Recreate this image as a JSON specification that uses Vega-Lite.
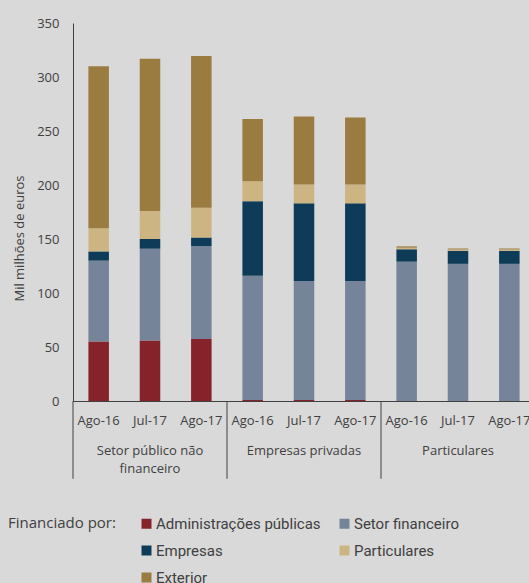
{
  "$schema": "https://vega.github.io/schema/vega-lite/v6.json",
  "background": "#d9d9d9",
  "padding": {"left": 8, "top": 17, "right": 0, "bottom": 0},
  "width": 462,
  "height": 378,
  "config": {
    "font": "Open Sans",
    "view": {"stroke": null},
    "axis": {"domainColor": "#404040", "labelColor": "#404040", "titleColor": "#404040", "labelFont": "Open Sans", "titleFont": "Open Sans", "labelFontSize": 13, "titleFontSize": 13, "titleFontWeight": "normal", "ticks": false, "tickSize": 0, "grid": false}
  },
  "datasets": {
    "valores": [
      {"barra": "1 Ago-16", "serie": "Administrações públicas", "ordem": 1, "valor": 55},
      {"barra": "1 Ago-16", "serie": "Setor financeiro", "ordem": 2, "valor": 75},
      {"barra": "1 Ago-16", "serie": "Empresas", "ordem": 3, "valor": 8.5},
      {"barra": "1 Ago-16", "serie": "Particulares", "ordem": 4, "valor": 21.5},
      {"barra": "1 Ago-16", "serie": "Exterior", "ordem": 5, "valor": 150},
      {"barra": "1 Jul-17", "serie": "Administrações públicas", "ordem": 1, "valor": 56},
      {"barra": "1 Jul-17", "serie": "Setor financeiro", "ordem": 2, "valor": 85},
      {"barra": "1 Jul-17", "serie": "Empresas", "ordem": 3, "valor": 9},
      {"barra": "1 Jul-17", "serie": "Particulares", "ordem": 4, "valor": 26},
      {"barra": "1 Jul-17", "serie": "Exterior", "ordem": 5, "valor": 141},
      {"barra": "1 Ago-17", "serie": "Administrações públicas", "ordem": 1, "valor": 57.5},
      {"barra": "1 Ago-17", "serie": "Setor financeiro", "ordem": 2, "valor": 86},
      {"barra": "1 Ago-17", "serie": "Empresas", "ordem": 3, "valor": 8},
      {"barra": "1 Ago-17", "serie": "Particulares", "ordem": 4, "valor": 27.5},
      {"barra": "1 Ago-17", "serie": "Exterior", "ordem": 5, "valor": 140.5},
      {"barra": "2 Ago-16", "serie": "Administrações públicas", "ordem": 1, "valor": 1},
      {"barra": "2 Ago-16", "serie": "Setor financeiro", "ordem": 2, "valor": 115},
      {"barra": "2 Ago-16", "serie": "Empresas", "ordem": 3, "valor": 69},
      {"barra": "2 Ago-16", "serie": "Particulares", "ordem": 4, "valor": 18.5},
      {"barra": "2 Ago-16", "serie": "Exterior", "ordem": 5, "valor": 57.5},
      {"barra": "2 Jul-17", "serie": "Administrações públicas", "ordem": 1, "valor": 1},
      {"barra": "2 Jul-17", "serie": "Setor financeiro", "ordem": 2, "valor": 110},
      {"barra": "2 Jul-17", "serie": "Empresas", "ordem": 3, "valor": 72},
      {"barra": "2 Jul-17", "serie": "Particulares", "ordem": 4, "valor": 17.5},
      {"barra": "2 Jul-17", "serie": "Exterior", "ordem": 5, "valor": 63},
      {"barra": "2 Ago-17", "serie": "Administrações públicas", "ordem": 1, "valor": 1},
      {"barra": "2 Ago-17", "serie": "Setor financeiro", "ordem": 2, "valor": 110},
      {"barra": "2 Ago-17", "serie": "Empresas", "ordem": 3, "valor": 72},
      {"barra": "2 Ago-17", "serie": "Particulares", "ordem": 4, "valor": 17.5},
      {"barra": "2 Ago-17", "serie": "Exterior", "ordem": 5, "valor": 62},
      {"barra": "3 Ago-16", "serie": "Administrações públicas", "ordem": 1, "valor": 0},
      {"barra": "3 Ago-16", "serie": "Setor financeiro", "ordem": 2, "valor": 129},
      {"barra": "3 Ago-16", "serie": "Empresas", "ordem": 3, "valor": 11.5},
      {"barra": "3 Ago-16", "serie": "Particulares", "ordem": 4, "valor": 1.5},
      {"barra": "3 Ago-16", "serie": "Exterior", "ordem": 5, "valor": 1.2},
      {"barra": "3 Jul-17", "serie": "Administrações públicas", "ordem": 1, "valor": 0},
      {"barra": "3 Jul-17", "serie": "Setor financeiro", "ordem": 2, "valor": 127},
      {"barra": "3 Jul-17", "serie": "Empresas", "ordem": 3, "valor": 12},
      {"barra": "3 Jul-17", "serie": "Particulares", "ordem": 4, "valor": 1.3},
      {"barra": "3 Jul-17", "serie": "Exterior", "ordem": 5, "valor": 0.9},
      {"barra": "3 Ago-17", "serie": "Administrações públicas", "ordem": 1, "valor": 0},
      {"barra": "3 Ago-17", "serie": "Setor financeiro", "ordem": 2, "valor": 127},
      {"barra": "3 Ago-17", "serie": "Empresas", "ordem": 3, "valor": 12},
      {"barra": "3 Ago-17", "serie": "Particulares", "ordem": 4, "valor": 1.3},
      {"barra": "3 Ago-17", "serie": "Exterior", "ordem": 5, "valor": 0.9}
    ],
    "grupos": [
      {"rotulo": "Setor público não\nfinanceiro", "inicio": "1 Ago-16", "meio": "1 Jul-17"},
      {"rotulo": "Empresas privadas", "inicio": "2 Ago-16", "meio": "2 Jul-17"},
      {"rotulo": "Particulares", "inicio": "3 Ago-16", "meio": "3 Jul-17"}
    ]
  },
  "layer": [
    {
      "data": {"name": "valores"},
      "mark": {"type": "bar"},
      "encoding": {
        "x": {
          "field": "barra", "type": "nominal", "title": null,
          "scale": {"domain": ["1 Ago-16", "1 Jul-17", "1 Ago-17", "2 Ago-16", "2 Jul-17", "2 Ago-17", "3 Ago-16", "3 Jul-17", "3 Ago-17"], "paddingInner": 0.6, "paddingOuter": 0.3},
          "axis": {"labelExpr": "slice(datum.label, 2)", "labelAngle": 0, "labelPadding": 13, "labelOverlap": false, "labelBound": false}
        },
        "y": {
          "field": "valor", "type": "quantitative", "stack": "zero",
          "scale": {"domain": [0, 350], "nice": false},
          "axis": {"title": "Mil milhões de euros", "values": [0, 50, 100, 150, 200, 250, 300, 350], "labelPadding": 14, "titlePadding": 10, "titleY": 215}
        },
        "color": {
          "field": "serie", "type": "nominal",
          "scale": {"domain": ["Administrações públicas", "Setor financeiro", "Empresas", "Particulares", "Exterior"], "range": ["#85222a", "#768499", "#0e3c58", "#cdb583", "#9a7c40"]},
          "legend": {"title": "Financiado por:", "orient": "none", "legendX": -65, "legendY": 493, "titleOrient": "left", "columns": 2, "direction": "horizontal", "symbolType": "square", "symbolSize": 100, "symbolStrokeWidth": 0, "labelFont": "Roboto", "labelFontSize": 15, "titleFontSize": 15, "titleFontWeight": "normal", "titleColor": "#404040", "labelColor": "#404040", "titlePadding": 23, "columnPadding": 16, "rowPadding": 11, "labelOffset": 2, "labelLimit": 300, "titleAnchor": "start"}
        },
        "order": {"field": "ordem", "type": "quantitative"}
      }
    },
    {
      "data": {"name": "grupos"},
      "mark": {"type": "rule", "color": "#404040", "strokeWidth": 1},
      "encoding": {
        "x": {"field": "inicio", "type": "nominal", "bandPosition": -0.75, "title": null},
        "y": {"datum": 0},
        "y2": {"datum": -72}
      }
    },
    {
      "data": {"name": "grupos"},
      "mark": {"type": "text", "baseline": "top", "lineBreak": "\n", "fontSize": 13, "lineHeight": 17.5, "color": "#404040"},
      "encoding": {
        "x": {"field": "meio", "type": "nominal", "title": null},
        "y": {"datum": -41},
        "text": {"field": "rotulo", "type": "nominal"}
      }
    }
  ]
}
